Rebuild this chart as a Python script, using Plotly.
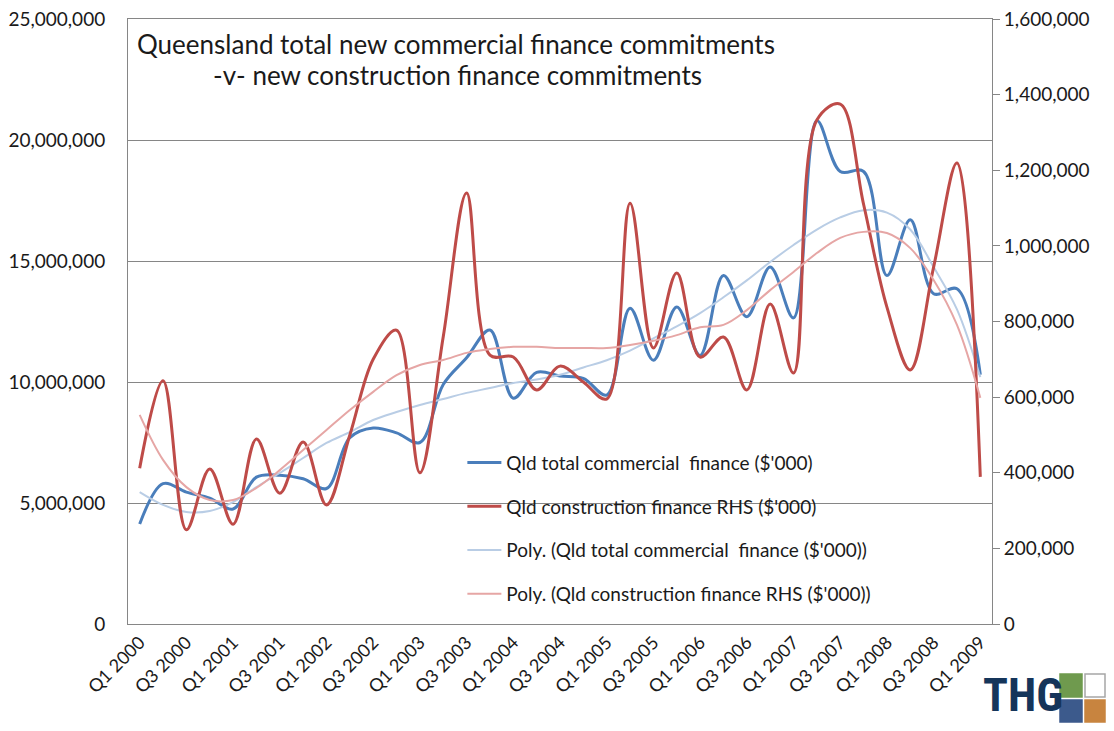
import plotly.graph_objects as go

quarters = [f"Q{q} {y}" for y in range(2000, 2010) for q in (1, 2, 3, 4)][:37]
tick_labels = quarters[::2]

commercial = [4.13, 5.8, 5.45, 5.2, 4.75, 6.07, 6.15, 6.0, 5.6, 7.7, 8.1, 7.9, 7.5,
              9.9, 11.0, 12.15, 9.33, 10.4, 10.25, 10.15, 9.46, 13.05, 10.9, 13.1,
              11.1, 14.4, 12.7, 14.75, 12.65, 20.8, 18.7, 18.7, 14.4, 16.7, 13.65,
              13.85, 10.3]
construction = [412, 643, 249, 410, 264, 489, 346, 481, 315, 500, 700, 777, 400,
                760, 1140, 711, 706, 619, 682, 640, 595, 1113, 730, 928, 706, 759,
                619, 846, 664, 1333, 1375, 1110, 838, 672, 944, 1219, 389]
# polynomial trendlines
trend_commercial = [5.45, 4.92, 4.63, 4.67, 5.04, 5.66, 6.24, 6.86, 7.48, 7.93, 8.43, 8.76,
                    9.05, 9.3, 9.55, 9.75, 9.96, 10.1, 10.3, 10.6, 10.9, 11.3, 11.8, 12.3,
                    12.85, 13.5, 14.2, 14.96, 15.66, 16.3, 16.8, 17.1, 17.0, 16.3, 14.75,
                    13.0, 10.2]
trend_construction = [553, 434, 362, 328, 328, 360, 407, 460, 513, 566, 614, 658, 685, 698,
                      717, 727, 733, 733, 730, 730, 730, 738, 749, 764, 785, 791, 830, 883,
                      931, 981, 1021, 1037, 1034, 994, 910, 791, 598]

commercial_v = [v * 1e6 for v in commercial]
construction_v = [v * 1e3 for v in construction]
trend_c_v = [v * 1e6 for v in trend_commercial]
trend_k_v = [v * 1e3 for v in trend_construction]
x = list(range(len(quarters)))

FONT = "Lato"
fig = go.Figure()
fig.add_trace(go.Scatter(x=x, y=commercial_v, mode="lines",
                         line=dict(color="#4a7ebb", width=3, shape="spline", smoothing=1),
                         name="Qld total commercial  finance ($'000)", legendgroup="a", yaxis="y"))
fig.add_trace(go.Scatter(x=x, y=construction_v, mode="lines",
                         line=dict(color="#be4b48", width=3, shape="spline", smoothing=1),
                         name="Qld construction finance RHS ($'000)", legendgroup="b", yaxis="y2"))
fig.add_trace(go.Scatter(x=x, y=trend_c_v, mode="lines",
                         line=dict(color="#b9cde5", width=2, shape="spline", smoothing=1),
                         name="Poly. (Qld total commercial  finance ($'000))", legendgroup="c", yaxis="y"))
fig.add_trace(go.Scatter(x=x, y=trend_k_v, mode="lines",
                         line=dict(color="#e6a6a5", width=2, shape="spline", smoothing=1),
                         name="Poly. (Qld construction finance RHS ($'000))", legendgroup="d", yaxis="y2"))

# the page body has an 8px margin, so the figure is sized/offset to keep the plot area in place
fig.update_layout(
    template="none",
    width=1098, height=715,
    margin=dict(l=120, r=114, t=11, b=99, autoexpand=False),
    paper_bgcolor="white", plot_bgcolor="white",
    font=dict(family=FONT, size=19, color="#1a1a1a"),
    showlegend=True,
    legend=dict(x=0.387, y=0.298, xanchor="left", yanchor="top", bgcolor="rgba(0,0,0,0)",
                font=dict(family=FONT, size=19, color="#1a1a1a"), tracegroupgap=16, itemwidth=34),
    xaxis=dict(range=[-0.5, len(quarters) - 0.5], tickvals=x[::2], ticktext=tick_labels, tickangle=-45,
               showgrid=False, showline=True, linecolor="#868686", linewidth=1, mirror=True,
               ticks="", zeroline=False, automargin=False, tickfont=dict(size=18),
               ticklabeloverflow="allow"),
    yaxis=dict(range=[0, 25e6], dtick=5e6, tickformat=",.0f", showgrid=True, gridcolor="#868686",
               gridwidth=1, showline=True, linecolor="#868686", linewidth=1, mirror=True, ticks="",
               zeroline=False, automargin=False, ticklabelstandoff=18, tickfont=dict(size=19),
               ticklabeloverflow="allow"),
    yaxis2=dict(range=[0, 1.6e6], dtick=2e5, tickformat=",.0f", overlaying="y", side="right",
                showgrid=False, showline=True, linecolor="#868686", linewidth=1, ticks="outside", ticklen=7,
                tickcolor="#868686", zeroline=False, automargin=False, tickfont=dict(size=19),
                ticklabeloverflow="allow"),
)

fig.add_annotation(text="Queensland total new commercial finance commitments", xref="paper", yref="paper",
                   x=0.008, y=0.958, xanchor="left", yanchor="middle", showarrow=False,
                   font=dict(family=FONT, size=26, color="#1a1a1a"))
fig.add_annotation(text="-v- new construction finance commitments", xref="paper", yref="paper",
                   x=0.096, y=0.907, xanchor="left", yanchor="middle", showarrow=False,
                   font=dict(family=FONT, size=26, color="#1a1a1a"))

# THG logo (positions given in page pixels, converted to paper coords)
def px2paper(px, py):
    return (px - 128) / 864, (624 - py) / 605

lx, ly = px2paper(982, 723)
fig.add_annotation(text="<b>THG</b>", xref="paper", yref="paper", x=lx, y=ly, xanchor="left",
                   yanchor="bottom", showarrow=False, borderpad=0,
                   font=dict(family="Liberation Sans Narrow, Roboto Condensed, Roboto", size=46, color="#15355a"))
for (x0, y0, x1, y1, fc, lc) in [(1060, 674, 1082, 697, "#6f9a4e", "#6f9a4e"),
                                  (1085, 674, 1105, 697, "white", "#a6a6a6"),
                                  (1060, 700, 1082, 722, "#3c5a8c", "#3c5a8c"),
                                  (1085, 700, 1105, 722, "#c8843f", "#c8843f")]:
    a0, b0 = px2paper(x0, y1)
    a1, b1 = px2paper(x1, y0)
    fig.add_shape(type="rect", xref="paper", yref="paper", x0=a0, y0=b0, x1=a1, y1=b1,
                  fillcolor=fc, line=dict(color=lc, width=1.5), layer="above")

fig.write_html("out.html")
